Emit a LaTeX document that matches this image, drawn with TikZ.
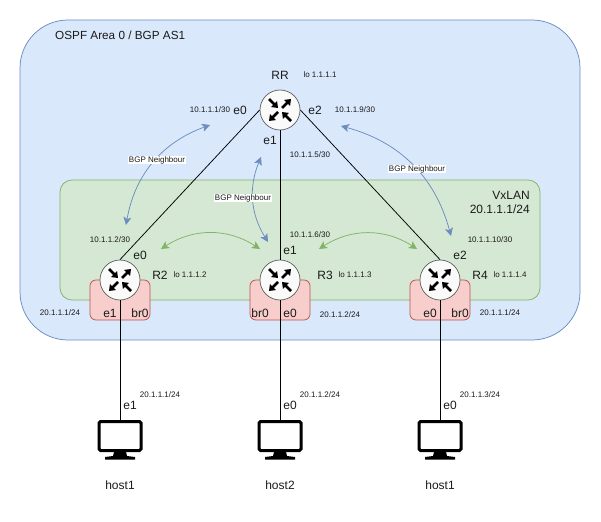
\documentclass[tikz,border=0pt]{standalone}
\usepackage{fontspec}
\setmainfont{Liberation Sans}
\usetikzlibrary{arrows.meta}
\definecolor{areablue}{HTML}{DAE8FC}
\definecolor{areablueline}{HTML}{6C8EBF}
\definecolor{vxgreen}{HTML}{D5E8D4}
\definecolor{vxgreenline}{HTML}{82B366}
\definecolor{brred}{HTML}{F8CECC}
\definecolor{brredline}{HTML}{B85450}
\definecolor{labelgray}{HTML}{1A1A1A}
\tikzset{
    router/.style={shape=circle,draw=black!60,line width=0.75pt,fill=black!2,minimum size=40pt,inner sep=0pt},
    host/.style={shape=rectangle,draw=black,line width=3pt,rounded corners=1.5pt,fill=white,minimum width=42pt,minimum height=29pt,inner sep=0pt},
    brbox/.style={shape=rectangle,draw=brredline,line width=0.75pt,fill=brred,rounded corners=6pt,minimum width=60pt,minimum height=40pt,inner sep=0pt},
    big/.style={inner sep=0pt,text=labelgray,font=\fontsize{12}{14}\selectfont},
    tiny/.style={inner sep=0pt,text=labelgray,font=\fontsize{8}{10}\selectfont},
    bgp/.style={fill=white,inner sep=0.5pt,text=labelgray,font=\fontsize{8}{10}\selectfont},
    link/.style={draw=black,line width=0.75pt},
    session/.style={<->,line width=0.75pt},
    iconarrow/.style={line width=2.6pt,-{Triangle[length=5.5pt,width=8pt]}},
}
\begin{document}
\begin{tikzpicture}[x=1pt,y=-1pt,>={Stealth[length=8pt,width=8pt,inset=2pt]}]
	\useasboundingbox (0,0) rectangle (601,521);
	% create the areas
	\node[shape=rectangle,draw=areablueline,line width=0.75pt,fill=areablue,rounded corners=48pt,minimum width=560pt,minimum height=320pt,inner sep=0pt] (area) at (300,180) {};
	\node[shape=rectangle,draw=vxgreenline,line width=0.75pt,fill=vxgreen,rounded corners=12pt,minimum width=480pt,minimum height=120pt,inner sep=0pt] (vxlan) at (300,240) {};
	\node[brbox] (br2) at (120,300) {};
	\node[brbox] (br3) at (280,300) {};
	\node[brbox] (br4) at (440,300) {};
	% create the routers and hosts
	\node[router] (rr) at (280,110) {};
	\node[router] (r2) at (120,280) {};
	\node[router] (r3) at (280,280) {};
	\node[router] (r4) at (440,280) {};
	\node[host] (h1) at (120,436) {};
	\node[host] (h2) at (280,436) {};
	\node[host] (h3) at (440,436) {};
	% links
	\draw[link] (rr.west) -- (r2.north);
	\draw[link] (rr.south) -- (r3.north);
	\draw[link] (rr.east) -- (r4.north);
	\draw[link] (r2.south) -- (h1.north);
	\draw[link] (r3.south) -- (h2.north);
	\draw[link] (r4.south) -- (h3.north);
	% router icons
	\foreach \r in {rr,r2,r3,r4}{
		\begin{scope}[shift={(\r.center)}]
			\draw[iconarrow] (-11,-11) -- (-2,-2);
			\draw[iconarrow] (2,-2) -- (11,-11);
			\draw[iconarrow] (-2,2) -- (-11,11);
			\draw[iconarrow] (11,11) -- (2,2);
		\end{scope}
	}
	% monitor stands
	\foreach \h in {h1,h2,h3}{
		\begin{scope}[shift={(\h.center)}]
			\fill (-6,16) -- (6,16) -- (7,20) -- (15,21) -- (15,23.5) -- (-15,23.5) -- (-15,21) -- (-7,20) -- cycle;
		\end{scope}
	}
	% bgp sessions
	\coordinate (b1a) at (210,125);
	\coordinate (b1b) at (126,225);
	\coordinate (b2a) at (261,157);
	\coordinate (b2b) at (268,242);
	\coordinate (b3a) at (341,126);
	\coordinate (b3b) at (451,236);
	\coordinate (v1a) at (161,249);
	\coordinate (v1b) at (260,249);
	\coordinate (v2a) at (319,249);
	\coordinate (v2b) at (417,249);
	\draw[session,areablueline] (b1a) to[bend right=30] (b1b);
	\draw[session,areablueline] (b2a) to[bend right=27] (b2b);
	\draw[session,areablueline] (b3a) to[bend left=30] (b3b);
	\draw[session,vxgreenline] (v1a) to[bend left=33] (v1b);
	\draw[session,vxgreenline] (v2a) to[bend left=33] (v2b);
	\node[bgp] (l1) at (157,160) {BGP Neighbour};
	\node[bgp] (l2) at (243,198) {BGP Neighbour};
	\node[bgp] (l3) at (417,169) {BGP Neighbour};
	% area labels
	\node[big,anchor=west,font=\fontsize{11.75}{14}\selectfont] (tarea) at (55,35) {OSPF Area 0 / BGP AS1};
	\node[big,anchor=east] (tvx1) at (530,195) {VxLAN};
	\node[big,anchor=east] (tvx2) at (530,209) {20.1.1.1/24};
	% router labels
	\node[big] (trr) at (280,75) {RR};
	\node[big] (tr2) at (160,275) {R2};
	\node[big] (tr3) at (325,275) {R3};
	\node[big] (tr4) at (480,275) {R4};
	\node[tiny] (lorr) at (320,75) {lo 1.1.1.1};
	\node[tiny] (lor2) at (190,275) {lo 1.1.1.2};
	\node[tiny] (lor3) at (355,275) {lo 1.1.1.3};
	\node[tiny] (lor4) at (510,275) {lo 1.1.1.4};
	% interfaces
	\node[big] (i1) at (240,110) {e0};
	\node[big] (i2) at (315,110) {e2};
	\node[big] (i3) at (270,140) {e1};
	\node[big] (i4) at (140,255) {e0};
	\node[big] (i5) at (290,250) {e1};
	\node[big] (i6) at (460,255) {e2};
	\node[big] (i7) at (110,313) {e1};
	\node[big] (i8) at (140,313) {br0};
	\node[big] (i9) at (260,313) {br0};
	\node[big] (i10) at (290,313) {e0};
	\node[big] (i11) at (430,313) {e0};
	\node[big] (i12) at (460,313) {br0};
	\node[big] (i13) at (130,405) {e1};
	\node[big] (i14) at (290,405) {e0};
	\node[big] (i15) at (450,405) {e0};
	% addresses
	\node[tiny] (a1) at (210,110) {10.1.1.1/30};
	\node[tiny] (a2) at (355,110) {10.1.1.9/30};
	\node[tiny] (a3) at (310,155) {10.1.1.5/30};
	\node[tiny] (a4) at (110,240) {10.1.1.2/30};
	\node[tiny] (a5) at (310,235) {10.1.1.6/30};
	\node[tiny] (a6) at (490,240) {10.1.1.10/30};
	\node[tiny] (a7) at (60,313) {20.1.1.1/24};
	\node[tiny] (a8) at (340,315) {20.1.1.2/24};
	\node[tiny] (a9) at (500,313) {20.1.1.1/24};
	\node[tiny] (a10) at (160,395) {20.1.1.1/24};
	\node[tiny] (a11) at (320,395) {20.1.1.2/24};
	\node[tiny] (a12) at (480,395) {20.1.1.3/24};
	% host names
	\node[big] (n1) at (120,485) {host1};
	\node[big] (n2) at (280,485) {host2};
	\node[big] (n3) at (440,485) {host1};
\end{tikzpicture}
\end{document}
